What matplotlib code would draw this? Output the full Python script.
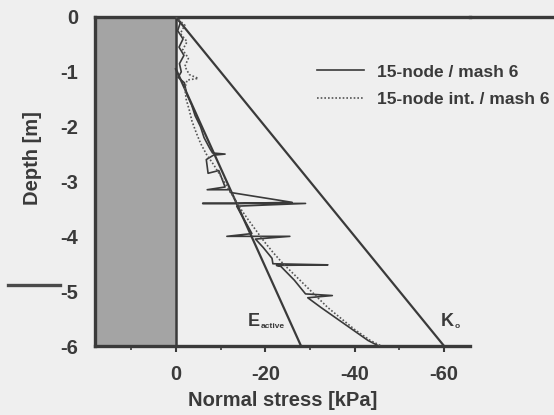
import numpy as np
import matplotlib
matplotlib.use('Agg')
import matplotlib.pyplot as plt
from matplotlib.lines import Line2D
from matplotlib.patches import Rectangle

plt.rcParams['font.family'] = ['Liberation Sans', 'DejaVu Sans']
plt.rcParams['font.weight'] = 'bold'
plt.rcParams['axes.labelweight'] = 'bold'
plt.rcParams['axes.unicode_minus'] = False

# wall (sheet pile) region
wall_x = [18.0, 0.0]

# theoretical lines: K0 and active pressure (tension crack down to ~0.95 m)
k0_stress = [0.0, -60.0]
k0_depth = [0.0, -6.0]
act_stress = [0.0, -28.0]
act_depth = [-0.95, -6.0]

# 15-node / mash 6 (solid)
fe_depth = [0.00, -0.10, -0.25, -0.40, -0.55, -0.70, -0.85, -1.00, -1.10, -1.20,
            -1.40, -1.60, -1.80, -2.00, -2.20, -2.40, -2.48, -2.50, -2.52, -2.60,
            -2.85, -2.80, -2.95, -3.10, -3.15, -3.15, -3.20, -3.38, -3.40, -3.40,
            -3.40, -3.45, -3.60, -3.80, -3.95, -4.00, -4.00, -4.05, -4.20, -4.40,
            -4.50, -4.52, -4.53, -4.55, -4.80, -5.05, -5.08, -5.12, -5.30, -5.50,
            -5.70, -5.90, -6.00, -6.00]
fe_stress = [0.0, -1.0, -0.4, -1.6, -0.7, -1.8, -0.8, -1.2, -0.5, -1.9,
             -2.4, -3.5, -4.3, -5.5, -6.3, -7.6, -8.2, -11.0, -8.4, -6.8,
             -7.2, -9.6, -10.3, -11.0, -7.0, -12.0, -12.2, -26.0, -13.0, -6.0,
             -29.0, -13.6, -14.6, -16.0, -17.0, -11.4, -25.5, -17.8, -19.5, -21.5,
             -21.7, -34.0, -22.5, -23.5, -26.5, -29.0, -35.0, -29.5, -32.5, -36.0,
             -39.5, -43.0, -45.4, -50.0]

# 15-node int. / mash 6 (dotted)
fei_depth = [0.0, -0.15, -0.30, -0.45, -0.60, -0.75, -0.90, -1.05, -1.12, -1.15,
             -1.30, -1.50, -1.70, -1.90, -2.10, -2.30, -2.50, -2.70, -2.90, -3.10,
             -3.30, -3.50, -3.70, -3.90, -4.10, -4.30, -4.50, -4.70, -4.90, -5.10,
             -5.30, -5.50, -5.70, -5.90, -6.00]
fei_stress = [0.0, -2.0, -1.0, -2.5, -1.5, -2.8, -2.0, -3.0, -5.0, -2.5,
              -2.0, -2.3, -3.0, -3.6, -4.5, -5.5, -6.8, -8.5, -10.0, -11.5,
              -13.0, -14.5, -16.2, -18.0, -19.8, -21.8, -24.0, -26.5, -29.0, -31.5,
              -34.0, -37.0, -40.0, -43.5, -46.0]

xticks = [0, -20, -40, -60]
yticks = [0, -1, -2, -3, -4, -5, -6]

ink = '#3a3a3a'
bg = '#efefef'

fig = plt.figure(figsize=(5.54, 4.15), dpi=100, facecolor=bg)
ax = fig.add_axes([95 / 554, 1 - 346 / 415, 375 / 554, 329 / 415], facecolor=bg)

ax.add_patch(Rectangle((wall_x[1], -6), wall_x[0] - wall_x[1], 6,
                       facecolor='#a4a4a4', edgecolor='none', zorder=1))
ax.axvline(0, color=ink, lw=1.8, zorder=2)

ax.plot(k0_stress, k0_depth, color=ink, lw=1.6, zorder=3)
ax.plot(act_stress, act_depth, color=ink, lw=1.6, zorder=3)
ax.plot(fe_stress, fe_depth, color=ink, lw=1.2, zorder=4, label='15-node / mash 6')
ax.plot(fei_stress, fei_depth, color='#555555', lw=1.2, ls=(0, (1, 1.2)), zorder=4,
        label='15-node int. / mash 6')

# line labels with small subscripts
ax.text(-16.1, -5.55, 'E', color=ink, fontsize=13, ha='left', va='center')
ax.annotate('active', xy=(-16.1, -5.55), xytext=(9.5, -4), textcoords='offset points',
            color=ink, fontsize=6, ha='left', va='center')
ax.text(-59.3, -5.55, 'K', color=ink, fontsize=13, ha='left', va='center')
ax.annotate('o', xy=(-59.3, -5.55), xytext=(9.5, -4), textcoords='offset points',
            color=ink, fontsize=6, ha='left', va='center')

ax.set_xlim(18.1, -65.8)
ax.set_ylim(-6, 0)
ax.set_xticks(xticks)
ax.set_xticklabels([str(v) for v in xticks])
ax.set_xticks([10, -10, -30, -50], minor=True)
ax.set_yticks(yticks)
ax.set_yticklabels([str(v) for v in yticks])
ax.tick_params(axis='x', which='major', direction='out', length=4, width=1.5,
               color=ink, pad=10, labelsize=14.5, labelcolor=ink)
ax.tick_params(axis='x', which='minor', direction='out', length=3, width=1.2, color=ink)
ax.tick_params(axis='y', length=0, pad=12, labelsize=14.5, labelcolor=ink)

for s in ['left', 'bottom', 'top']:
    ax.spines[s].set_color(ink)
    ax.spines[s].set_linewidth(2.4)
ax.spines['right'].set_visible(False)

ax.set_xlabel('Normal stress [kPa]', fontsize=14.5, fontweight='bold', color=ink, labelpad=5)
ax.set_ylabel('Depth [m]', fontsize=14.5, fontweight='bold', color=ink)
ax.yaxis.set_label_coords(-0.14, 0.57)

ax.legend(loc='upper left', bbox_to_anchor=(0.592, 0.856), frameon=False,
          fontsize=12.5, handlelength=2.7, handletextpad=0.75, labelspacing=0.7,
          borderpad=0, borderaxespad=0, labelcolor=ink)

# ground line continuing to the right edge, and the marker line at -5
fig.add_artist(Line2D([470 / 554, 1.0], [1 - 17 / 415, 1 - 17 / 415],
                      color=ink, lw=2.4))
fig.add_artist(Line2D([8 / 554, 60 / 554], [1 - 285 / 415, 1 - 285 / 415],
                      color='#4a4a4a', lw=2.4))

fig.savefig('out.png', dpi=100, facecolor=bg)
